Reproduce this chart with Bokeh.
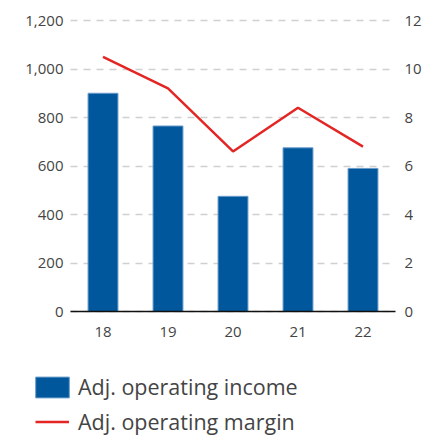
from bokeh.plotting import figure
from bokeh.models import (ColumnDataSource, Range1d, LinearAxis, Legend, LegendItem,
                          FixedTicker, CustomJSTickFormatter, Grid)
from bokeh.embed import file_html
from bokeh.resources import INLINE

years = ["18", "19", "20", "21", "22"]
income = [900, 765, 475, 675, 590]
margin = [10.5, 9.2, 6.6, 8.4, 6.8]
left_ticks = [0, 200, 400, 600, 800, 1000, 1200]
right_ticks = [0, 2, 4, 6, 8, 10, 12]
labels = ["Adj. operating income", "Adj. operating margin"]

FONT = "Open Sans"
BLUE = "#00579b"
RED = "#e32624"
TXT = "#444444"

W, H = 422, 436
# plot-area placement (pixels)
LEFT, RIGHT, TOP, BASE = 70, 395, 20, 311

idx = list(range(len(years)))
n = len(years)
xs = (RIGHT - LEFT) / n
x_start = -0.5 - LEFT / xs
x_end = n - 0.5 + (W - RIGHT) / xs

ymax_l, ymax_r = left_ticks[-1], right_ticks[-1]
ys_l = (BASE - TOP) / ymax_l
ys_r = (BASE - TOP) / ymax_r

src = ColumnDataSource(dict(x=idx, income=income, margin=margin))

p = figure(width=W, height=H, output_backend="svg", toolbar_location=None,
           x_range=Range1d(x_start, x_end),
           y_range=Range1d(-(H - BASE) / ys_l, ymax_l + TOP / ys_l),
           x_axis_type=None, y_axis_type=None,
           min_border_left=0, min_border_right=0, min_border_top=0, min_border_bottom=0)
p.outline_line_color = None
p.extra_y_ranges = {"m": Range1d(-(H - BASE) / ys_r, ymax_r + TOP / ys_r)}

bars = p.vbar(x="x", top="income", width=0.46, source=src,
              fill_color=BLUE, line_color="#6a9ccb", line_width=1)
ln = p.line(x="x", y="margin", source=src, y_range_name="m", color=RED, line_width=2.5)

def style_axis(ax, standoff):
    ax.major_tick_out = 0
    ax.major_tick_in = 0
    ax.major_tick_line_color = None
    ax.minor_tick_line_color = None
    ax.major_label_standoff = standoff
    ax.major_label_text_font = FONT
    ax.major_label_text_font_size = "15px"
    ax.major_label_text_color = TXT

ya = LinearAxis(ticker=FixedTicker(ticks=left_ticks), fixed_location=-0.5)
ya.formatter = CustomJSTickFormatter(code="return tick.toLocaleString('en-US');")
ya.axis_line_color = None
style_axis(ya, 7)
p.add_layout(ya, "left")

ra = LinearAxis(y_range_name="m", ticker=FixedTicker(ticks=right_ticks), fixed_location=n - 0.5)
ra.axis_line_color = None
style_axis(ra, 9)
p.add_layout(ra, "right")

xa = LinearAxis(ticker=FixedTicker(ticks=idx), fixed_location=0, bounds=(-0.5, n - 0.5),
                major_label_overrides={i: y for i, y in zip(idx, years)})
xa.axis_line_color = "#111111"
xa.axis_line_width = 1.5
style_axis(xa, 15)
p.add_layout(xa, "below")

grid = Grid(dimension=1, ticker=FixedTicker(ticks=left_ticks),
            grid_line_color="#d0d0d0", grid_line_dash="7 6", grid_line_width=1.5)
if "cross_bounds" in Grid.properties():
    grid.cross_bounds = (-0.5, n - 0.5)
grid.level = "underlay"
p.add_layout(grid, "center")

common = dict(orientation="vertical", padding=0, margin=0, spacing=0,
              label_text_font=FONT, label_text_font_size="21.5px", label_text_color=TXT,
              label_height=24, border_line_color=None, background_fill_alpha=0)

# bar item: area legend glyphs are inset by 10% on each side
leg_bar = Legend(items=[LegendItem(label=labels[0], renderers=[bars])],
                 location=(31, 35), glyph_width=42, glyph_height=26,
                 label_standoff=5, **common)
leg_line = Legend(items=[LegendItem(label=labels[1], renderers=[ln])],
                  location=(35, 0), glyph_width=34, glyph_height=21,
                  label_standoff=9, **common)
p.add_layout(leg_bar, "center")
p.add_layout(leg_line, "center")

open("out.html", "w").write(file_html(p, INLINE))
